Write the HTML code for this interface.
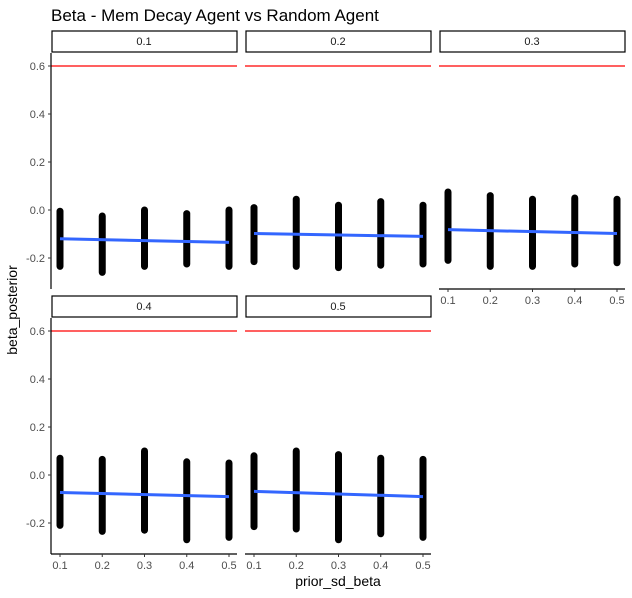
<!DOCTYPE html>
<html><head><meta charset="utf-8"><style>
body{margin:0;background:#fff;font-family:"Liberation Sans",sans-serif}
svg{display:block}
</style></head><body>
<svg id="chart" width="632" height="598" xmlns="http://www.w3.org/2000/svg">
<text x="51" y="21" font-size="17" fill="#000">Beta - Mem Decay Agent vs Random Agent</text>
<text x="338" y="586" font-size="14" text-anchor="middle" fill="#000">prior_sd_beta</text>
<text x="17" y="310" font-size="14" text-anchor="middle" fill="#000" transform="rotate(-90 17 310)">beta_posterior</text>
</svg>
<script>
const panels=["0.1","0.2","0.3","0.4","0.5"];
const xCats=[0.1,0.2,0.3,0.4,0.5];
const yTicks=[-0.2,0,0.2,0.4,0.6];
const xTicks=["0.1","0.2","0.3","0.4","0.5"];
const refLine=0.6;
const maxVals=[[-0.005,-0.025,0.0,-0.015,0.0],[0.01,0.045,0.02,0.035,0.02],[0.075,0.06,0.045,0.05,0.045],[0.07,0.065,0.1,0.055,0.05],[0.08,0.1,0.085,0.07,0.065]];
const minVals=[[-0.235,-0.26,-0.235,-0.225,-0.235],[-0.215,-0.235,-0.24,-0.23,-0.225],[-0.21,-0.235,-0.235,-0.225,-0.22],[-0.21,-0.235,-0.23,-0.27,-0.26],[-0.215,-0.225,-0.27,-0.245,-0.26]];
const fitStart=[-0.12,-0.098,-0.082,-0.073,-0.068];
const fitEnd=[-0.135,-0.11,-0.098,-0.09,-0.09];

const svg=document.getElementById('chart');
const NS="http://www.w3.org/2000/svg";
function mk(t,a,p){const e=document.createElementNS(NS,t);for(const k in a)e.setAttribute(k,a[k]);(p||svg).appendChild(e);return e;}
const colX=[51,245,439], rowTop=[53,318], pw=186, ph=236;
function xs(c,v){return colX[c]+9+(v-0.1)/0.4*169;}
function ys(r,v){return rowTop[r]+157-v/0.2*48;}

panels.forEach((p,i)=>{
  const r=Math.floor(i/3), c=i%3;
  const g=mk('g',{});
  
  
  const s=mk('rect',{x:colX[c]+1,y:rowTop[r]-22,width:pw-1,height:21,fill:'#fff',stroke:'#000','stroke-width':1.2},g);
  
  
  const st=mk('text',{x:colX[c]+pw/2,y:rowTop[r]-8,'font-size':11,'text-anchor':'middle',fill:'#1a1a1a'},g);
  st.textContent=p;
  
  
  const rl=mk('line',{x1:colX[c],x2:colX[c]+pw,y1:ys(r,refLine),y2:ys(r,refLine),stroke:'#ff0000','stroke-width':1.3},g);
  
  
  xCats.forEach((v,j)=>{
    const b=mk('line',{x1:xs(c,v),x2:xs(c,v),y1:ys(r,maxVals[i][j]),y2:ys(r,minVals[i][j]),stroke:'#000','stroke-width':7,'stroke-linecap':'round'},g);
    
    
  });
  const f=mk('line',{x1:xs(c,xCats[0]),x2:xs(c,xCats[4]),y1:ys(r,fitStart[i]),y2:ys(r,fitEnd[i]),stroke:'#3366ff','stroke-width':3},g);
  
  
  if(c===0){
    const ya=mk('line',{x1:colX[c],x2:colX[c],y1:rowTop[r],y2:rowTop[r]+ph,stroke:'#000','stroke-width':1.2},g);
    
    
    yTicks.forEach(t=>{
      mk('line',{x1:colX[c]-3,x2:colX[c],y1:ys(r,t),y2:ys(r,t),stroke:'#333'},g);
      const tl=mk('text',{x:colX[c]-6,y:ys(r,t)+4,'font-size':11,'text-anchor':'end',fill:'#4d4d4d'},g);
      tl.textContent=t.toFixed(1);
      
      
    });
  }
  if(r===1||c===2){
    const yb=rowTop[r]+ph;
    const xa=mk('line',{x1:colX[c],x2:colX[c]+pw,y1:yb,y2:yb,stroke:'#000','stroke-width':1.2},g);
    
    
    xCats.forEach((v,j)=>{
      mk('line',{x1:xs(c,v),x2:xs(c,v),y1:yb,y2:yb+3,stroke:'#333'},g);
      const tl=mk('text',{x:xs(c,v),y:yb+15,'font-size':11,'text-anchor':'middle',fill:'#4d4d4d'},g);
      tl.textContent=xTicks[j];
      
      
    });
  }
});
</script>
</body></html>
